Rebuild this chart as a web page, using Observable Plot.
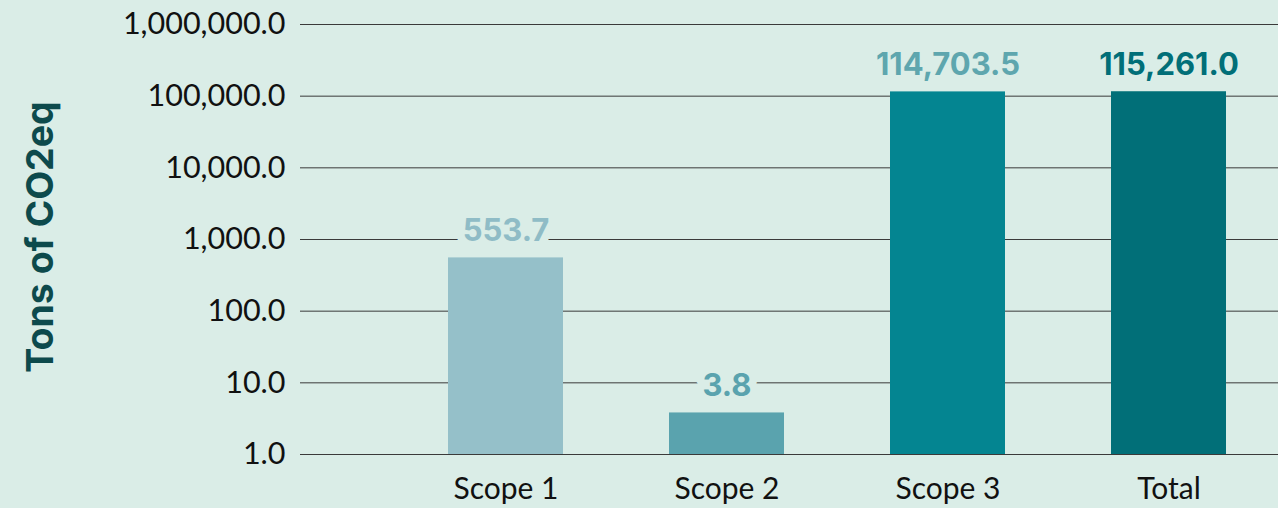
<!DOCTYPE html>
<html>
<head>
<meta charset="utf-8">
<script src="https://cdn.jsdelivr.net/npm/d3@7"></script>
<script src="https://cdn.jsdelivr.net/npm/@observablehq/plot@0.6"></script>
<style>
  html, body { margin: 0; padding: 0; background: #daede7; }
  #chart { width: 1278px; height: 508px; }
  svg { display: block; }
</style>
</head>
<body>
<div id="chart"></div>
<script>
const categories = ["Scope 1", "Scope 2", "Scope 3", "Total"];
const values = [553.7, 3.8, 114703.5, 115261.0];
const labels = ["553.7", "3.8", "114,703.5", "115,261.0"];
const barColors = ["#95c0c9", "#5aa3ae", "#048591", "#016f78"];
const labelColors = ["#8fbcc6", "#5aa3ae", "#5ea6ae", "#016f78"];
const yTicks = [1, 10, 100, 1000, 10000, 100000, 1000000];
const yTitle = "Tons of CO2eq";

const data = categories.map((c, i) => ({
  category: c, value: values[i], label: labels[i],
  bar: barColors[i], labelColor: labelColors[i]
}));

const bg = "#daede7";

const chart = Plot.plot({
  width: 1278,
  height: 508,
  marginLeft: 300,
  marginRight: 0,
  marginTop: 24,
  marginBottom: 54,
  style: { background: bg, fontFamily: "Lato", color: "#111" },
  x: { domain: categories, range: [446.5, 1227], paddingInner: 0.4815, paddingOuter: 0, label: null },
  y: { type: "log", domain: [1, 1000000], label: null },
  marks: [
    Plot.ruleY(yTicks, { stroke: "#3a3a3a", strokeWidth: 1 }),
    Plot.barY(data, { x: "category", y1: 1, y2: "value", fill: d => d.bar }),
    Plot.text(data, {
      x: "category", y: "value", text: "label", dy: -27,
      fill: d => d.labelColor, stroke: bg, strokeWidth: 16, strokeLinejoin: "round",
      fontSize: 31, fontWeight: 700, fontFamily: "Inter"
    }),
    Plot.axisY({
      ticks: yTicks, tickFormat: d3.format(",.1f"), tickSize: 0, tickPadding: 15,
      fontSize: 30.5, fontFamily: "Lato", fill: "#111", label: null
    }),
    Plot.axisX({
      tickSize: 0, tickPadding: 23, fontSize: 30, fontFamily: "Lato", fill: "#111", label: null
    })
  ]
});

const svg = d3.select(chart);
svg.append("text")
  .attr("transform", "translate(39,237) rotate(-90)")
  .attr("text-anchor", "middle")
  .attr("dominant-baseline", "central")
  .attr("font-family", "Inter")
  .attr("font-weight", 700)
  .attr("font-size", 37.5)
  .attr("fill", "#0d4a4c")
  .text(yTitle);

document.getElementById("chart").appendChild(chart);
</script>
</body>
</html>
